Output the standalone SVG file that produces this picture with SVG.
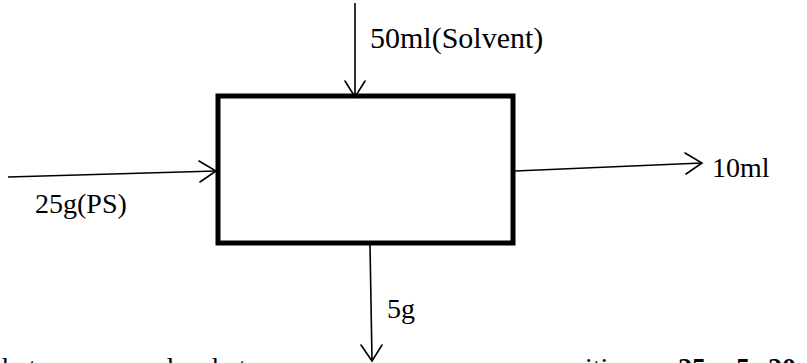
<svg xmlns="http://www.w3.org/2000/svg" width="807" height="363" viewBox="0 0 807 363">
<style>
.lbl{font-family:"Liberation Serif","Times New Roman",serif;font-size:28px;fill:#000}
.big{font-size:30px}
.bold{font-weight:bold}
.ln{stroke:#000;stroke-width:1.6;fill:none}
.ah{stroke:#000;stroke-width:1.6;fill:none;stroke-linecap:round;stroke-linejoin:miter}
</style>
<rect width="807" height="363" fill="#fff"/>
<g id="process">
<rect x="218" y="96" width="295" height="147" fill="none" stroke="#000" stroke-width="5"/>
</g>
<g id="connectors">
<line class="ln" x1="355" y1="3" x2="355" y2="96"/>
<polyline class="ah" points="345,81 355,97 365,81"/>
<line class="ln" x1="8" y1="177" x2="216" y2="171"/>
<polyline class="ah" points="199,161 216,171 200,182"/>
<line class="ln" x1="515" y1="171" x2="702" y2="163"/>
<polyline class="ah" points="685,153 702,163 686,174"/>
<line class="ln" x1="370" y1="245" x2="372" y2="360"/>
<polyline class="ah" points="361,345 372,361 382,345"/>
</g>
<g id="labels">
<text class="lbl big" x="370" y="48">50ml(Solvent)</text>
<text class="lbl" x="35" y="213">25g(PS)</text>
<text class="lbl" x="712" y="177">10ml</text>
<text class="lbl" x="387" y="318">5g</text>
</g>
<g id="footer">
<text class="lbl" y="377"><tspan x="2">hat</tspan><tspan x="90">e</tspan><tspan x="133">and</tspan><tspan x="212">hat</tspan><tspan x="298">e</tspan><tspan x="585">ition</tspan><tspan class="bold" x="678">25</tspan><tspan class="bold" x="736">5</tspan><tspan class="bold" x="768">20</tspan></text>
</g>
</svg>
